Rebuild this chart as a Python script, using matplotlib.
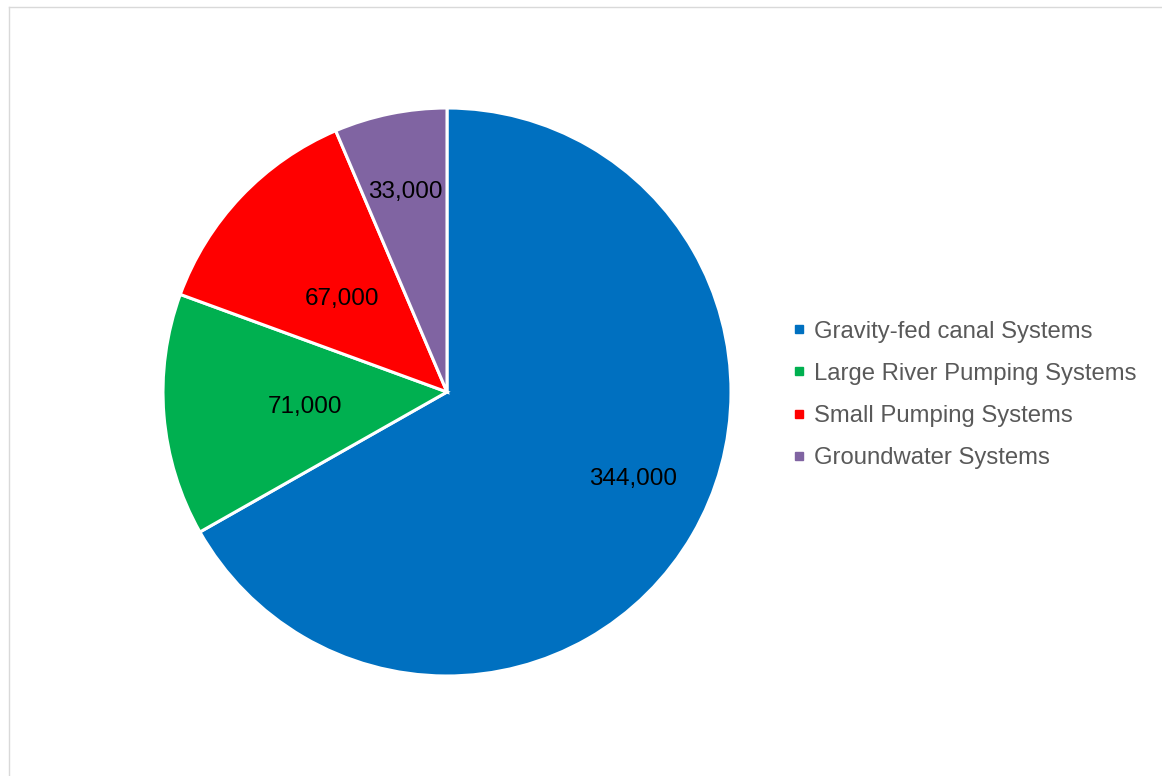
import matplotlib.pyplot as plt
import numpy as np
from matplotlib.lines import Line2D

plt.rcParams['font.family'] = ['Liberation Sans', 'DejaVu Sans']

categories = ["Gravity-fed canal Systems", "Large River Pumping Systems",
              "Small Pumping Systems", "Groundwater Systems"]
values = [344000, 71000, 67000, 33000]
colors = ["#0070C0", "#00B050", "#FF0000", "#8064A2"]
# label placement: distance from centre (fraction of radius) and angle shift (deg)
label_dist = [0.72, 0.50, 0.50, 0.73]
label_shift = [6.0, 0.0, 1.0, 0.0]

W, H = 1162, 776
fig = plt.figure(figsize=(W / 100, H / 100), dpi=100)

# pie centre and radius in pixels
cx, cy, r = 447, 392, 284
ax = fig.add_axes([(cx - r) / W, (H - cy - r) / H, 2 * r / W, 2 * r / H])

wedges, _ = ax.pie(values, colors=colors, startangle=90, counterclock=False,
                   radius=1.0, wedgeprops=dict(edgecolor="white", linewidth=2.2))
ax.set_xlim(-1, 1)
ax.set_ylim(-1, 1)
ax.set_aspect("equal")
ax.axis("off")

for w, v, d, s in zip(wedges, values, label_dist, label_shift):
    ang = np.deg2rad((w.theta1 + w.theta2) / 2 + s)
    ax.text(d * np.cos(ang), d * np.sin(ang) - 0.011, f"{v:,}", ha="center", va="center",
            fontsize=17.5, color="black")

handles = [Line2D([], [], marker="s", linestyle="none", markersize=5.5,
                  markerfacecolor=c, markeredgecolor=c) for c in colors]
fig.legend(handles, categories, loc="center left",
           bbox_to_anchor=(792 / W, 1 - 395 / H), frameon=False,
           fontsize=17.2, labelcolor="#595959", handlelength=0.6,
           handletextpad=0.3, labelspacing=0.85, borderpad=0, borderaxespad=0)

# chart border (left and top edges visible)
fig.add_artist(Line2D([8.5 / W, 8.5 / W], [0, 1 - 6.5 / H], transform=fig.transFigure,
                      color="#d9d9d9", linewidth=1))
fig.add_artist(Line2D([8.5 / W, 1], [1 - 6.5 / H, 1 - 6.5 / H], transform=fig.transFigure,
                      color="#d9d9d9", linewidth=1))

fig.savefig("out.png", dpi=100)
